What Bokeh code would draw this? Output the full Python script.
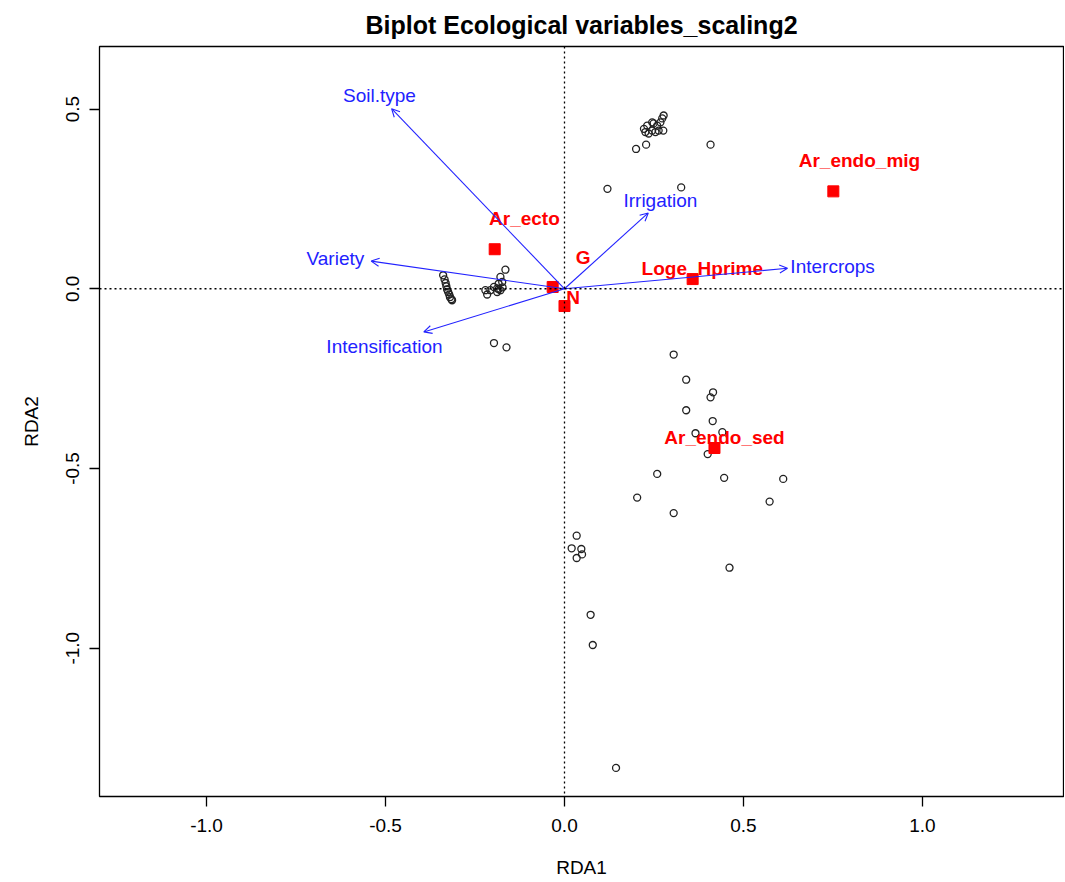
from bokeh.plotting import figure
from bokeh.models import ColumnDataSource, Arrow, OpenHead, Span, Range1d, FixedTicker, PrintfTickFormatter
from bokeh.embed import file_html
from bokeh.resources import INLINE
from bokeh.core.properties import value

# ---- data ----
site_x = [0.222, 0.226, 0.235, 0.245, 0.249, 0.259, 0.268, 0.273, 0.277, 0.263, 0.276, 0.254, 0.231, 0.245,
          0.200, 0.228, 0.408, 0.120, 0.326,
          -0.339, -0.335, -0.332, -0.330, -0.328, -0.325, -0.322, -0.320, -0.316, -0.314,
          -0.221, -0.216, -0.207, -0.197, -0.188, -0.184, -0.179, -0.174, -0.165, -0.179, -0.188, -0.184, -0.173,
          -0.197, -0.162,
          0.305, 0.340, 0.415, 0.408, 0.340, 0.414, 0.366, 0.441, 0.400, 0.259, 0.446, 0.611, 0.203, 0.573, 0.305, 0.461,
          0.034, 0.020, 0.047, 0.049, 0.034, 0.073, 0.079, 0.144]
site_y = [0.445, 0.436, 0.432, 0.440, 0.460, 0.454, 0.463, 0.474, 0.482, 0.440, 0.440, 0.436, 0.454, 0.463,
          0.389, 0.401, 0.401, 0.278, 0.282,
          0.0375, 0.026, 0.016, 0.007, -0.002, -0.009, -0.016, -0.023, -0.029, -0.032,
          -0.004, -0.016, -0.004, 0.005, 0.001, 0.014, 0.033, 0.019, 0.053, -0.004, -0.009, -0.001, 0.004,
          -0.151, -0.163,
          -0.183, -0.253, -0.288, -0.302, -0.338, -0.368, -0.402, -0.399, -0.460, -0.515, -0.526, -0.529, -0.581, -0.592, -0.624, -0.776,
          -0.687, -0.722, -0.724, -0.739, -0.749, -0.907, -0.991, -1.333]

species = ["Ar_endo_mig", "Ar_ecto", "G", "N", "Loge_Hprime", "Ar_endo_sed"]
species_x = [0.751, -0.195, -0.033, 0.000, 0.358, 0.419]
species_y = [0.271, 0.110, 0.005, -0.048, 0.027, -0.443]
species_label_x = [0.824, -0.112, 0.052, 0.024, 0.385, 0.447]
species_label_y = [0.357, 0.196, 0.088, -0.023, 0.057, -0.4125]

env_vars = ["Soil.type", "Variety", "Intensification", "Irrigation", "Intercrops"]
env_x = [-0.483, -0.540, -0.393, 0.234, 0.623]
env_y = [0.501, 0.077, -0.120, 0.211, 0.057]
env_label_x = [-0.517, -0.640, -0.503, 0.268, 0.749]
env_label_y = [0.5375, 0.085, -0.160, 0.246, 0.0625]

x_ticks = [-1.0, -0.5, 0.0, 0.5, 1.0]
y_ticks = [-1.0, -0.5, 0.0, 0.5]

FONT = "Liberation Sans"
BLUE = "#2222ff"

p = figure(width=1064, height=880,
           x_range=Range1d(-1.299, 1.394), y_range=Range1d(-1.4125, 0.674),
           output_backend="svg", toolbar_location=None,
           min_border_left=99, min_border_right=1, min_border_top=46, min_border_bottom=83,
           title="Biplot Ecological variables_scaling2")
p.grid.visible = False
p.outline_line_color = "black"
p.outline_line_width = 1.3
p.background_fill_color = "white"
p.border_fill_color = "white"

p.title.align = "center"
p.title.text_font = FONT
p.title.text_font_size = "25px"
p.title.text_font_style = "bold"
p.title.text_color = "black"
p.title.standoff = 16

p.xaxis.ticker = FixedTicker(ticks=x_ticks)
p.yaxis.ticker = FixedTicker(ticks=y_ticks)
for ax in [p.xaxis[0], p.yaxis[0]]:
    ax.formatter = PrintfTickFormatter(format="%.1f")
    ax.axis_line_color = None
    ax.major_tick_out = 10
    ax.major_tick_in = 0
    ax.major_tick_line_color = "black"
    ax.major_tick_line_width = 1.3
    ax.minor_tick_line_color = None
    ax.major_label_text_font = FONT
    ax.major_label_text_font_size = "19px"
    ax.major_label_text_color = "black"
    ax.axis_label_text_font = FONT
    ax.axis_label_text_font_size = "19px"
    ax.axis_label_text_font_style = "normal"
    ax.axis_label_text_color = "black"

p.xaxis.axis_label = "RDA1"
p.yaxis.axis_label = "RDA2"
p.xaxis.major_label_standoff = 12
p.yaxis.major_label_standoff = 10
p.yaxis.major_label_orientation = "vertical"
p.xaxis.axis_label_standoff = 22
p.yaxis.axis_label_standoff = 22

p.add_layout(Span(location=0, dimension="height", line_color="black", line_width=1.3, line_dash="2 3"))
p.add_layout(Span(location=0, dimension="width", line_color="black", line_width=1.3, line_dash="2 3"))

# sites
p.scatter(site_x, site_y, marker="circle", size=7, fill_color=None,
          line_color="#222222", line_width=1.3)

# environmental arrows
arrow_src = ColumnDataSource(dict(x0=[0.0] * len(env_x), y0=[0.0] * len(env_y), x1=env_x, y1=env_y))
arr = Arrow(end=OpenHead(size=8, line_color=BLUE, line_width=1.1),
            x_start="x0", y_start="y0", x_end="x1", y_end="y1", source=arrow_src,
            line_color=BLUE, line_width=1.1, level="glyph")
p.add_layout(arr)
p.text(x=env_label_x, y=env_label_y, text=env_vars, text_color=BLUE,
       text_font=value(FONT), text_font_size="19px", text_align="center", text_baseline="middle")

# species
p.scatter(species_x, species_y, marker="square", size=11, color="red")
p.text(x=species_label_x, y=species_label_y, text=species, text_color="red",
       text_font=value(FONT), text_font_size="19px", text_font_style="bold",
       text_align="center", text_baseline="middle")

open("out.html", "w").write(file_html(p, INLINE))
